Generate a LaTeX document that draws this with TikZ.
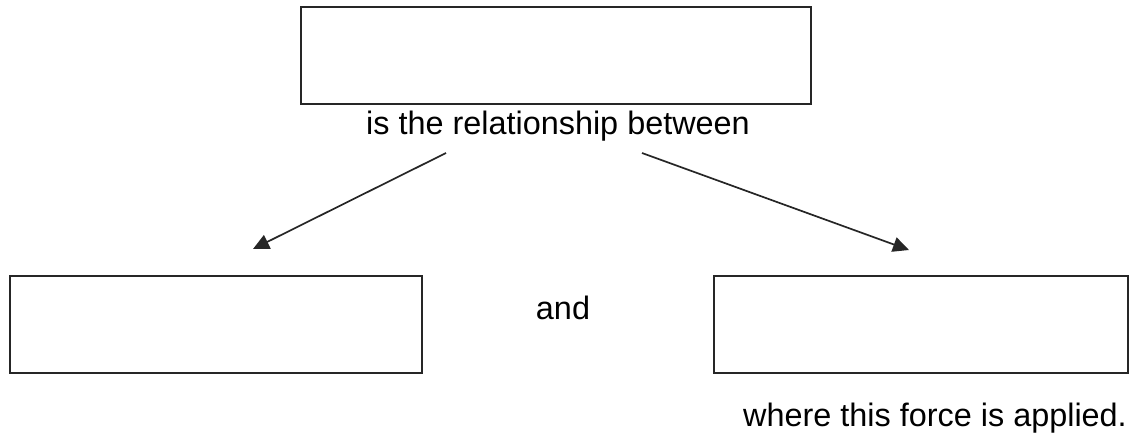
\documentclass[tikz,border=0pt]{standalone}
\usepackage{fontspec}
\setmainfont{Liberation Sans}
\usetikzlibrary{arrows.meta}
\begin{document}
\begin{tikzpicture}[x=1pt,y=-1pt,
  box/.style={draw=black!85,line width=2pt,inner sep=0pt,fill=white},
  lbl/.style={inner sep=0pt,font=\fontsize{32.4}{38}\selectfont},
  conn/.style={line width=1.7pt,black!85,-{Triangle[length=16pt,width=15pt]}}]
\useasboundingbox (0,0) rectangle (1135,439);
\node[box,minimum width=510pt,minimum height=97pt] (top) at (556,55.5) {};
\node[box,minimum width=412pt,minimum height=97pt] (left) at (216,324.5) {};
\node[box,minimum width=414pt,minimum height=97pt] (right) at (921,324.5) {};
\node[lbl,anchor=base] (rel) at (558,134) {is the relationship between};
\node[lbl,anchor=base] (and) at (563,319) {and};
\node[lbl,anchor=base east] (where) at (1127,426) {where this force is applied.};
\coordinate (s1) at (446,153);
\coordinate (e1) at (253,249);
\coordinate (s2) at (642,153);
\coordinate (e2) at (909,250);
\draw[conn] (s1) -- (e1);
\draw[conn] (s2) -- (e2);
\end{tikzpicture}
\end{document}
